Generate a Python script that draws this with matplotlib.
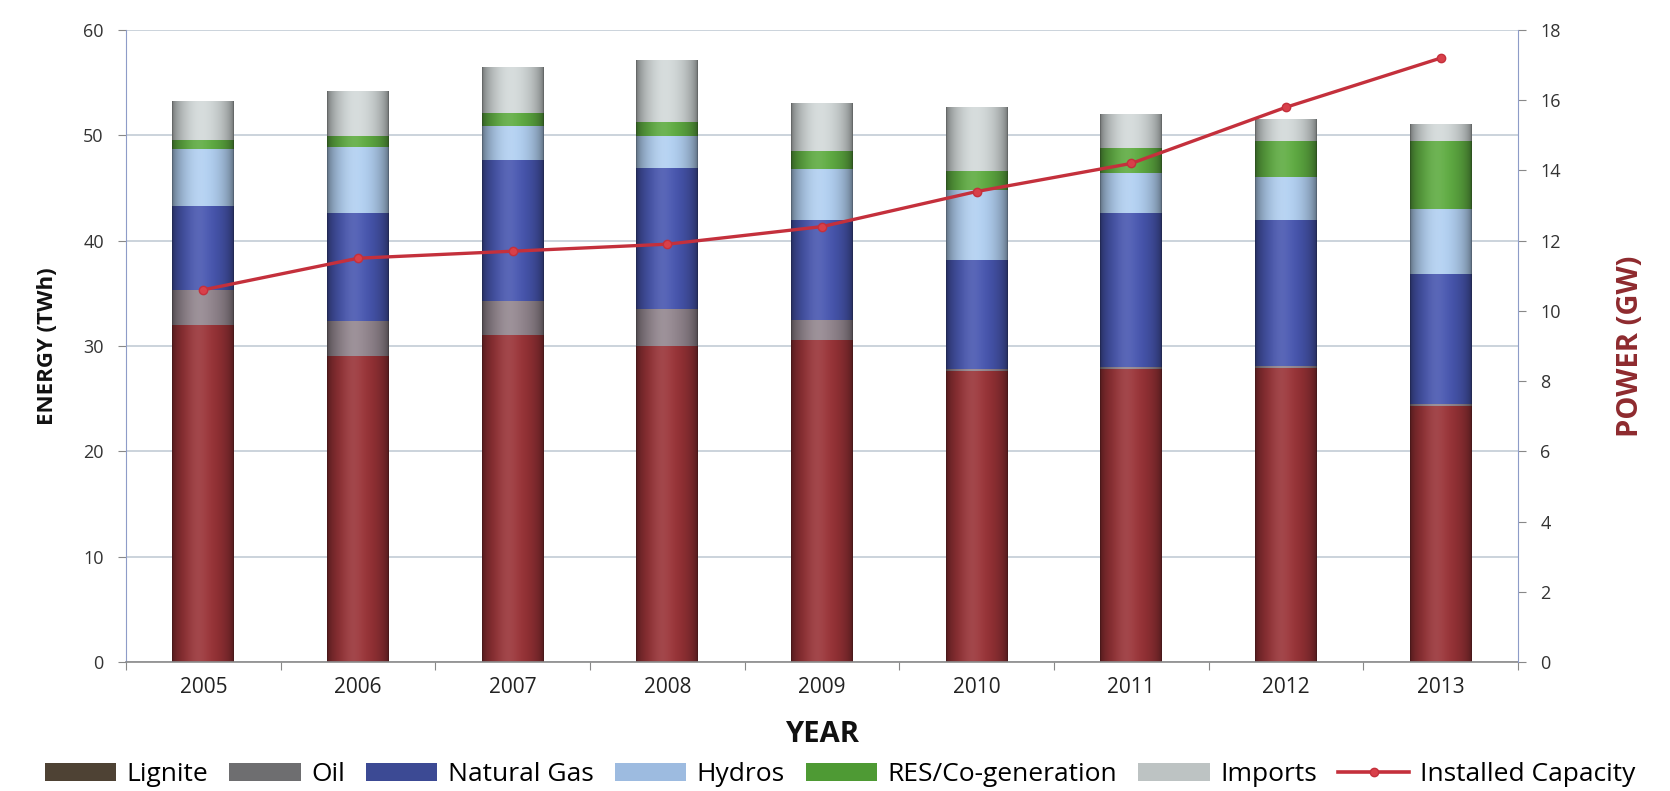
import numpy as np
import matplotlib
matplotlib.use("Agg")
import matplotlib.pyplot as plt
from matplotlib.colors import to_rgb
from matplotlib.lines import Line2D
from matplotlib.patches import Patch

plt.rcParams['font.family'] = ['Open Sans', 'DejaVu Sans']

years = ["2005", "2006", "2007", "2008", "2009", "2010", "2011", "2012", "2013"]
lignite = [32.0, 29.05, 31.0, 30.0, 30.6, 27.6, 27.8, 27.9, 24.3]
oil = [3.3, 3.3, 3.3, 3.5, 1.9, 0.2, 0.2, 0.2, 0.2]
natural_gas = [8.0, 10.25, 13.4, 13.4, 9.5, 10.4, 14.6, 13.9, 12.3]
hydros = [5.4, 6.3, 3.2, 3.0, 4.8, 6.6, 3.8, 4.0, 6.2]
res_cogen = [0.9, 1.05, 1.2, 1.4, 1.7, 1.8, 2.4, 3.5, 6.5]
imports = [3.7, 4.2, 4.3, 5.8, 4.5, 6.0, 3.2, 2.0, 1.6]
installed_capacity = [10.6, 11.5, 11.7, 11.9, 12.4, 13.4, 14.2, 15.8, 17.2]

series = [
    ("Lignite", lignite, "#923034"),
    ("Oil", oil, "#8C8088"),
    ("Natural Gas", natural_gas, "#4452A8"),
    ("Hydros", hydros, "#A9C6E6"),
    ("RES/Co-generation", res_cogen, "#5AA43E"),
    ("Imports", imports, "#C9CFCF"),
]
legend_colors = ["#4E4234", "#6E6E70", "#3C4A94", "#9DBBE0", "#4E9A34", "#BDC3C3"]

W, H = 1670, 791
fig = plt.figure(figsize=(W / 100, H / 100), dpi=100)
ax = fig.add_axes([126 / W, 1 - 662 / H, (1518 - 126) / W, (662 - 30) / H])

x = np.arange(len(years))
bw = 0.40
bottom = np.zeros(len(years))
containers = []
for name, vals, col in series:
    bc = ax.bar(x, vals, bw, bottom=bottom, color=col, zorder=2, linewidth=0)
    containers.append((bc, col))
    bottom += np.array(vals)

# cylinder-like shading on each segment
N = 64
t = np.linspace(0, 1, N)
shade = 0.5 + 0.55 * np.sin(np.pi * t) ** 0.5
hl = 0.10 * np.exp(-((t - 0.42) / 0.18) ** 2)
for bc, col in containers:
    base = np.array(to_rgb(col))
    grad = np.clip(base[None, :] * shade[:, None], 0, 1)
    grad = grad + (1 - grad) * hl[:, None]
    img = grad[None, :, :]
    for r in bc.patches:
        x0, y0, w, h = r.get_x(), r.get_y(), r.get_width(), r.get_height()
        if h <= 0:
            continue
        ax.imshow(img, extent=(x0, x0 + w, y0, y0 + h), aspect='auto',
                  interpolation='bilinear', zorder=2.1)

ax.set_xlim(-0.5, len(years) - 0.5)
ax.set_ylim(0, 60)
ax.set_yticks(np.arange(0, 61, 10))
ax.set_yticklabels([str(v) for v in range(0, 61, 10)], fontsize=13, color="#333333")
ax.set_xticks(np.arange(-0.5, len(years), 1))
ax.set_xticklabels([])
ax.set_xticks(x, minor=True)
ax.set_xticklabels(years, minor=True, fontsize=15, color="#222222")
ax.tick_params(axis='x', which='minor', length=0, pad=11)
ax.tick_params(axis='x', which='major', length=6, color="#888888")
ax.tick_params(axis='y', length=6, color="#888888", pad=10)
ax.grid(axis='y', color="#C2CCD6", linewidth=1.2, zorder=0)
ax.set_axisbelow(True)
for s in ["top", "right"]:
    ax.spines[s].set_visible(False)
ax.spines["left"].set_color("#8E9CC8")
ax.spines["bottom"].set_color("#8A8A8A")
ax.spines["bottom"].set_linewidth(1.2)

ax.set_ylabel("ENERGY (TWh)", fontsize=16, fontweight='bold', color="#111111", labelpad=18)
ax.set_xlabel("YEAR", fontsize=21, fontweight='bold', color="#111111", labelpad=16)

ax2 = ax.twinx()
ax2.plot(x, installed_capacity, color="#C4303C", lw=2.4, marker='o', ms=6,
         markerfacecolor="#D8404A", markeredgecolor="#C4303C", zorder=5)
ax2.set_ylim(0, 18)
ax2.set_yticks(np.arange(0, 19, 2))
ax2.set_yticklabels([str(v) for v in range(0, 19, 2)], fontsize=13, color="#333333")
ax2.tick_params(axis='y', length=6, color="#888888", pad=10)
for s in ["top", "left", "bottom"]:
    ax2.spines[s].set_visible(False)
ax2.spines["right"].set_color("#8E9CC8")
ax2.set_ylabel("POWER (GW)", fontsize=21, fontweight='bold', color="#8E2A2E", labelpad=40)

handles = [Patch(facecolor=c, edgecolor='none') for c in legend_colors]
handles.append(Line2D([0], [0], color="#C4303C", lw=2.6, marker='o', ms=6,
                      markerfacecolor="#D8404A"))
labels = [s[0] for s in series] + ["Installed Capacity"]
fig.legend(handles, labels, loc='lower center', bbox_to_anchor=(0.503, -0.025), ncol=7,
           frameon=False, fontsize=19, handlelength=2.7, handleheight=0.7,
           columnspacing=0.8, handletextpad=0.4)

fig.savefig("out.png", dpi=100, facecolor="white")
